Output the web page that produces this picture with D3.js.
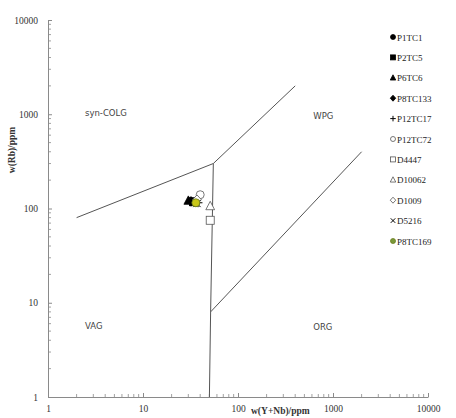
<!DOCTYPE html>
<html><head><meta charset="utf-8">
<script src="https://cdn.jsdelivr.net/npm/d3@7"></script>
<style>body{margin:0;background:#fff}svg{display:block}</style>
</head><body>
<svg id="c" width="456" height="418"></svg>
<script>
const xTicks = [1, 10, 100, 1000, 10000];
const yTicks = [1, 10, 100, 1000, 10000];
const seriesNames = ["P1TC1","P2TC5","P6TC6","P8TC133","P12TC17","P12TC72","D4447","D10062","D1009","D5216","P8TC169"];
const seriesX = [36, 34, 30, 32, 38, 40, 51, 51, 37, 37, 36];
const seriesY = [116, 118, 121, 119, 115, 140, 75, 106, 124, 113, 115];
const seriesShape = ["circle","square","triangle","diamond","plus","circle","square","triangle","diamond","cross","circle"];
const seriesFilled = [true,true,true,true,true,false,false,false,false,true,true];
const boundaryLines = [
  [[2,80],[55,300],[400,2000]],
  [[55,300],[51.5,8],[50,1]],
  [[51.5,8],[2000,400]]
];
const regionNames = ["syn-COLG","WPG","VAG","ORG"];
const regionX = [2.45, 620, 2.45, 620];
const regionY = [960, 900, 5.3, 5.2];

const svg = d3.select("#c");
const x = d3.scaleLog().domain([1,10000]).range([48,428]);
const y = d3.scaleLog().domain([1,10000]).range([397,20]);
const axisColor = "#8a8a8a";
const serif = "'Liberation Serif','Times New Roman',serif";

// minor ticks
const minors = [];
for (let d=1; d<10000; d*=10) for (let k=2;k<10;k++) minors.push(d*k);
svg.append("g").selectAll("line").data(minors).join("line")
  .attr("x1", d=>x(d)).attr("x2", d=>x(d)).attr("y1", 397).attr("y2", 394)
  .attr("stroke", axisColor).attr("stroke-width", 0.8);
svg.append("g").selectAll("line").data(minors).join("line")
  .attr("y1", d=>y(d)).attr("y2", d=>y(d)).attr("x1", 48).attr("x2", 51)
  .attr("stroke", axisColor).attr("stroke-width", 0.8);

const xAxis = svg.append("g").attr("transform","translate(0,397)")
  .call(d3.axisBottom(x).tickValues(xTicks).tickFormat(d3.format("d")).tickSizeInner(-4).tickSizeOuter(0).tickPadding(8));
const yAxis = svg.append("g").attr("transform","translate(48,0)")
  .call(d3.axisLeft(y).tickValues(yTicks).tickFormat(d3.format("d")).tickSizeInner(-4).tickSizeOuter(0).tickPadding(10));
[xAxis,yAxis].forEach(g=>{
  g.select(".domain").attr("stroke", axisColor);
  g.selectAll(".tick line").attr("stroke", axisColor);
  g.selectAll(".tick text").attr("font-family", serif).attr("font-size", 9.5).attr("fill","#333");
});

// boundary lines
const line = d3.line().x(d=>x(d[0])).y(d=>y(d[1]));
svg.append("g").selectAll("path").data(boundaryLines).join("path")
  .attr("d", line).attr("fill","none").attr("stroke","#555").attr("stroke-width",1);

// region labels
svg.append("g").selectAll("text").data(regionNames).join("text")
  .attr("x",(d,i)=>x(regionX[i])).attr("y",(d,i)=>y(regionY[i]))
  .attr("font-family","'DejaVu Sans',Verdana,sans-serif").attr("font-size",8.5).attr("fill","#444")
  .text(d=>d);

// symbols
function sym(g, shape, filled, size, color, i){
  const s = size;
  const fill = filled ? color : "#fff";
  const stroke = i===10 ? "#6b7d1f" : (filled ? color : "#555");
  if (shape==="circle") g.append("circle").attr("r",s*0.5).attr("fill",fill).attr("stroke",stroke).attr("stroke-width",0.8);
  else if (shape==="square") g.append("rect").attr("x",-s*0.5).attr("y",-s*0.5).attr("width",s).attr("height",s).attr("fill",fill).attr("stroke",stroke).attr("stroke-width",0.8);
  else if (shape==="triangle") g.append("path").attr("d",`M0,${-s*0.6}L${s*0.55},${s*0.45}L${-s*0.55},${s*0.45}Z`).attr("fill",fill).attr("stroke",stroke).attr("stroke-width",0.8);
  else if (shape==="diamond") g.append("path").attr("d",`M0,${-s*0.6}L${s*0.55},0L0,${s*0.6}L${-s*0.55},0Z`).attr("fill",fill).attr("stroke",stroke).attr("stroke-width",0.8);
  else if (shape==="plus") g.append("path").attr("d",`M${-s*0.55},0H${s*0.55}M0,${-s*0.55}V${s*0.55}`).attr("stroke",color).attr("stroke-width",1);
  else if (shape==="cross") g.append("path").attr("d",`M${-s*0.45},${-s*0.45}L${s*0.45},${s*0.45}M${s*0.45},${-s*0.45}L${-s*0.45},${s*0.45}`).attr("stroke",color).attr("stroke-width",1);
}
const colorOf = i => i===10 ? "#c9c719" : "#000";
const pts = svg.append("g");
seriesNames.forEach((n,i)=>{
  const g = pts.append("g").attr("transform",`translate(${x(seriesX[i])},${y(seriesY[i])})`);
  sym(g, seriesShape[i], seriesFilled[i], 8, colorOf(i), i);
});

// legend
const leg = svg.append("g");
seriesNames.forEach((n,i)=>{
  const yy = 37 + i*20.4;
  const g = leg.append("g").attr("transform",`translate(393,${yy})`);
  sym(g, seriesShape[i], seriesFilled[i], 5, i===10 ? "#7a9a3a" : "#000", i);
  leg.append("text").attr("x",397).attr("y",yy+3.5).attr("font-family",serif).attr("font-size",9).attr("fill","#222").text(n);
});

// axis titles
svg.append("text").attr("x",251).attr("y",414).attr("font-family",serif).attr("font-size",9.5).attr("font-weight","bold").attr("fill","#333").text("w(Y+Nb)/ppm");
svg.append("text").attr("transform","translate(15,150) rotate(-90)").attr("text-anchor","middle").attr("font-family",serif).attr("font-size",9.5).attr("font-weight","bold").attr("fill","#333").text("w(Rb)/ppm");
</script>
</body></html>
